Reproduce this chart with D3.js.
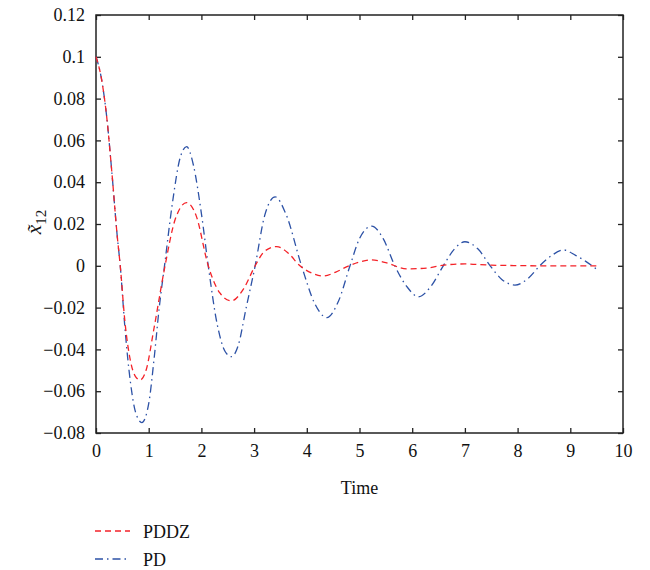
<!DOCTYPE html>
<html>
<head>
<meta charset="utf-8">
<script src="https://cdn.jsdelivr.net/npm/d3@7"></script>
<style>
  body { margin: 0; background: #fff; }
  text { font-family: "Liberation Serif", "DejaVu Serif", serif; fill: #111; }
</style>
</head>
<body>
<div id="chart"></div>
<script>
// values
var pdTime = [0, 0.1, 0.2, 0.3, 0.4, 0.46, 0.55, 0.65, 0.75, 0.87, 1.0, 1.1, 1.2, 1.3, 1.45, 1.6, 1.72, 1.85, 2.0, 2.13, 2.3, 2.45, 2.57, 2.7, 2.85, 3.02, 3.2, 3.4, 3.6, 3.9, 4.15, 4.38, 4.6, 4.82, 5.0, 5.23, 5.45, 5.67, 5.9, 6.12, 6.35, 6.59, 6.8, 7.0, 7.25, 7.48, 7.7, 7.95, 8.2, 8.42, 8.65, 8.87, 9.1, 9.3, 9.52];
var pdValue = [0.1, 0.09, 0.072, 0.045, 0.015, 0, -0.03, -0.055, -0.07, -0.075, -0.066, -0.045, -0.02, 0, 0.03, 0.052, 0.057, 0.048, 0.025, 0, -0.028, -0.041, -0.0435, -0.038, -0.02, 0, 0.024, 0.033, 0.025, 0, -0.018, -0.0248, -0.017, 0, 0.013, 0.019, 0.013, 0, -0.01, -0.0148, -0.01, 0, 0.008, 0.0115, 0.008, 0, -0.0065, -0.0092, -0.006, 0, 0.005, 0.0076, 0.005, 0.002, -0.002];

var pddzTime = [0, 0.1, 0.2, 0.3, 0.4, 0.46, 0.55, 0.65, 0.75, 0.84, 0.95, 1.1, 1.31, 1.5, 1.72, 1.9, 2.13, 2.35, 2.57, 2.8, 3.02, 3.2, 3.43, 3.65, 3.87, 4.1, 4.31, 4.55, 4.8, 5.0, 5.23, 5.5, 5.9, 6.3, 6.6, 7.0, 7.5, 8.0, 8.5, 9.0, 9.52];
var pddzValue = [0.1, 0.09, 0.072, 0.045, 0.015, 0, -0.027, -0.045, -0.053, -0.0546, -0.05, -0.03, 0, 0.022, 0.0302, 0.024, 0, -0.013, -0.0168, -0.011, 0, 0.007, 0.0092, 0.006, 0, -0.0035, -0.0049, -0.003, 0, 0.0018, 0.0028, 0.0015, -0.0015, -0.001, 0.0003, 0.0009, 0.0003, 0.0001, 0, 0, 0];

var xTicks = [0, 1, 2, 3, 4, 5, 6, 7, 8, 9, 10];
var yTicks = [-0.08, -0.06, -0.04, -0.02, 0, 0.02, 0.04, 0.06, 0.08, 0.1, 0.12];

var series = [
    {name: "PDDZ", x: pddzTime, y: pddzValue, color: "#f42228", dash: "6,4"},
    {name: "PD", x: pdTime, y: pdValue, color: "#2d52a6", dash: "8,4,1.5,4"}
];

var margin = {top: 15, right: 27, bottom: 137, left: 96};
var width = 650 - margin.left - margin.right;
var height = 570 - margin.top - margin.bottom;
var fontSize = 18;

var svg = d3.select("#chart")
    .append("svg")
    .attr("width", 650)
    .attr("height", 570);

var inner = svg.append("g")
    .attr("transform", "translate(" + margin.left + "," + margin.top + ")");

var x = d3.scaleLinear().domain([0, 10]).range([0, width]);
var y = d3.scaleLinear().domain([-0.08, 0.12]).range([height, 0]);

var fmtY = function (d) { return d === 0 ? "0" : String(+d.toFixed(2)).replace("-", "\u2212"); };

// bottom axis, ticks inward
inner.append("g")
    .attr("transform", "translate(0," + height + ")")
    .call(d3.axisBottom(x).tickValues(xTicks).tickSize(-5).tickPadding(11).tickFormat(d3.format("d")))
    .call(function (g) { g.select(".domain").remove(); })
    .selectAll("text").style("font-size", fontSize + "px").style("font-family", "'Liberation Serif', serif");

// left axis
inner.append("g")
    .call(d3.axisLeft(y).tickValues(yTicks).tickSize(-5).tickPadding(11).tickFormat(fmtY))
    .call(function (g) { g.select(".domain").remove(); })
    .selectAll("text").style("font-size", fontSize + "px").style("font-family", "'Liberation Serif', serif");

// top and right ticks
inner.append("g")
    .call(d3.axisTop(x).tickValues(xTicks).tickSize(-5).tickFormat(""))
    .call(function (g) { g.select(".domain").remove(); });
inner.append("g")
    .attr("transform", "translate(" + width + ",0)")
    .call(d3.axisRight(y).tickValues(yTicks).tickSize(-5).tickFormat(""))
    .call(function (g) { g.select(".domain").remove(); });

inner.selectAll(".tick line").attr("stroke", "#222").attr("stroke-width", 1.3);

// frame
inner.append("rect")
    .attr("width", width)
    .attr("height", height)
    .attr("fill", "none")
    .attr("stroke", "#222")
    .attr("stroke-width", 1.5);

// lines
var line = d3.line()
    .x(function (d) { return x(d[0]); })
    .y(function (d) { return y(d[1]); })
    .curve(d3.curveMonotoneX);

inner.selectAll(".series")
    .data(series.slice().reverse())
    .enter()
    .append("path")
    .attr("d", function (s) { return line(s.x.map(function (t, i) { return [t, s.y[i]]; })); })
    .attr("fill", "none")
    .attr("stroke", function (s) { return s.color; })
    .attr("stroke-width", 1.3)
    .attr("stroke-dasharray", function (s) { return s.dash; });

// x label
inner.append("text")
    .attr("text-anchor", "middle")
    .attr("x", width / 2)
    .attr("y", height + 61)
    .style("font-size", fontSize + "px")
    .text("Time");

// y label
var yl = svg.append("text")
    .attr("transform", "translate(41," + (margin.top + height / 2 - 2) + ") rotate(-90)")
    .attr("text-anchor", "middle")
    .style("font-size", "21px");
yl.append("tspan").attr("font-style", "italic").text("x\u0303");
yl.append("tspan").style("font-size", "15px").attr("dy", 5).text("12");

// legend
var legend = svg.selectAll(".legend")
    .data(series)
    .enter()
    .append("g")
    .attr("transform", function (d, i) { return "translate(95," + (531 + i * 28) + ")"; });

legend.append("line")
    .attr("x1", 0).attr("x2", 35)
    .attr("stroke", function (d) { return d.color; })
    .attr("stroke-width", 1.3)
    .attr("stroke-dasharray", function (d) { return d.dash; });

legend.append("text")
    .attr("x", 48)
    .attr("y", 7)
    .style("font-size", fontSize + "px")
    .text(function (d) { return d.name; });
</script>
</body>
</html>
